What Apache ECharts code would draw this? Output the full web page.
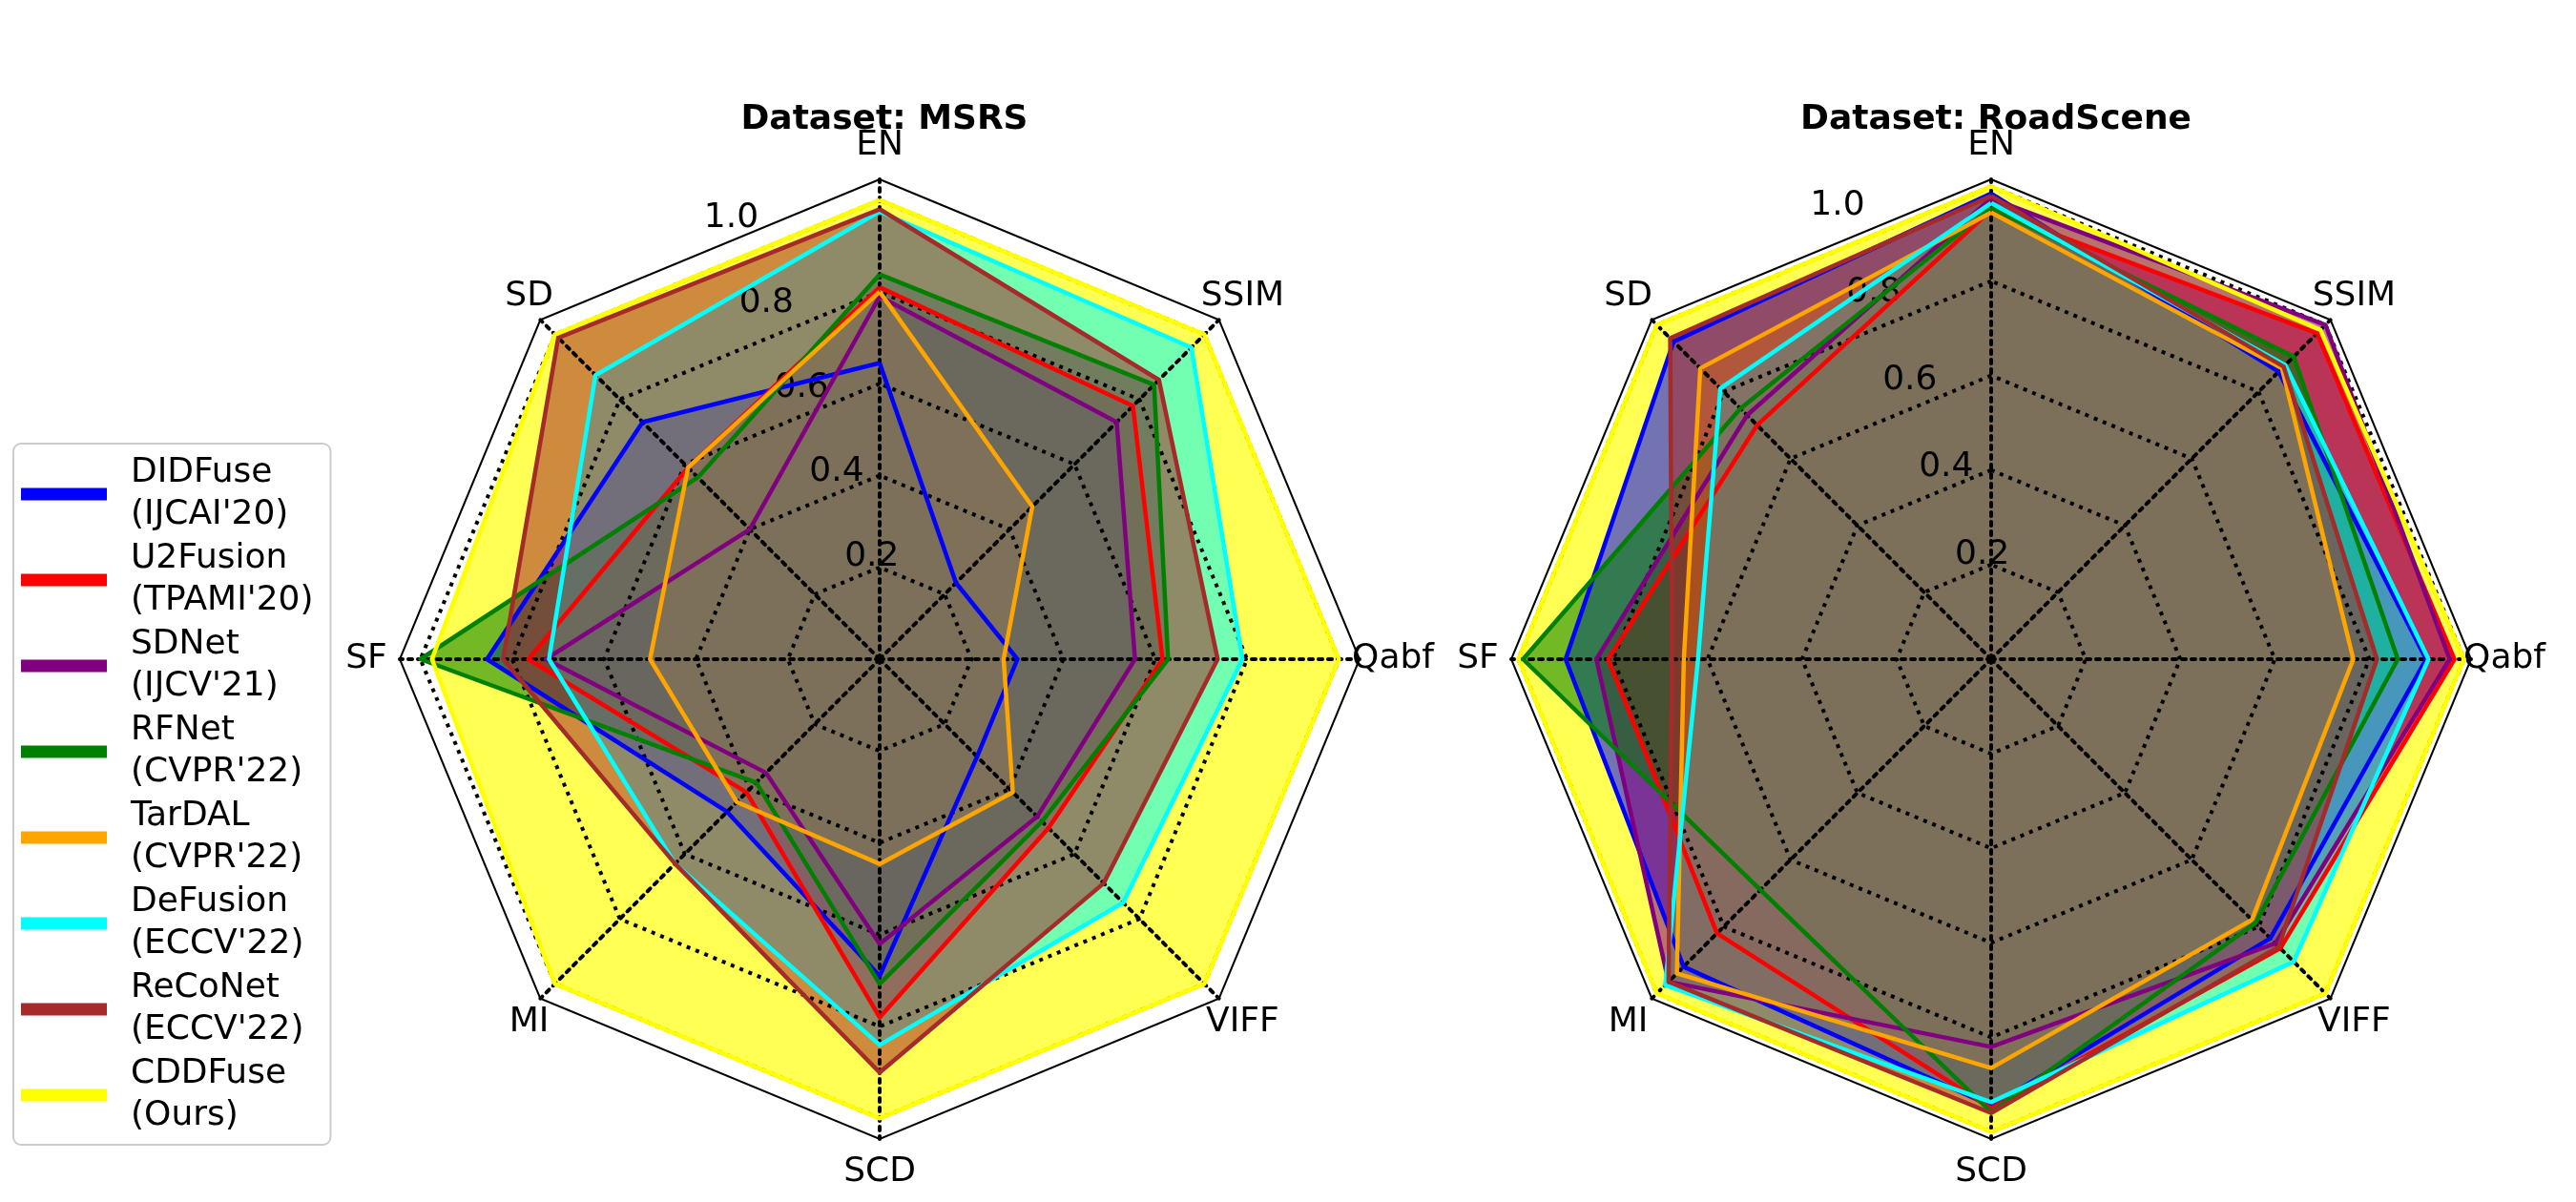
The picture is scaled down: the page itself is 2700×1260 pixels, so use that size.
<!DOCTYPE html>
<html>
<head>
<meta charset="utf-8">
<script src="https://cdn.jsdelivr.net/npm/echarts@6/dist/echarts.min.js"></script>
<style>
html,body{margin:0;padding:0;background:#fff;}
#chart{width:2700px;height:1260px;}
</style>
</head>
<body>
<div id="chart"></div>
<script>
// ---------- data ----------
const METHODS = ["DIDFuse\n(IJCAI'20)", "U2Fusion\n(TPAMI'20)", "SDNet\n(IJCV'21)", "RFNet\n(CVPR'22)",
                 "TarDAL\n(CVPR'22)", "DeFusion\n(ECCV'22)", "ReCoNet\n(ECCV'22)", "CDDFuse\n(Ours)"];
const COLORS = ['#0000ff', '#ff0000', '#800080', '#008000', '#ffa500', '#00ffff', '#a52a2a', '#ffff00'];
// axes, counter-clockwise starting at the top
const AXES = ['EN', 'SD', 'SF', 'MI', 'SCD', 'VIFF', 'Qabf', 'SSIM'];
const RADIAL_TICKS = ['0.2', '0.4', '0.6', '0.8', '1.0'];
const TITLES = ['Dataset: MSRS', 'Dataset: RoadScene'];

// values per method, in AXES order: EN, SD, SF, MI, SCD, VIFF, Qabf, SSIM
const MSRS_DIDFuse  = [0.645, 0.73, 0.855, 0.47, 0.69, 0.30, 0.30, 0.235];
const MSRS_U2Fusion = [0.81, 0.59, 0.765, 0.41, 0.78, 0.52, 0.616, 0.78];
const MSRS_SDNet    = [0.79, 0.40, 0.727, 0.35, 0.62, 0.485, 0.556, 0.73];
const MSRS_RFNet    = [0.838, 0.56, 1.0, 0.38, 0.707, 0.50, 0.628, 0.845];
const MSRS_TarDAL   = [0.80, 0.59, 0.50, 0.44, 0.446, 0.41, 0.27, 0.47];
const MSRS_DeFusion = [0.975, 0.875, 0.72, 0.63, 0.84, 0.75, 0.79, 0.96];
const MSRS_ReCoNet  = [0.98, 0.99, 0.82, 0.63, 0.90, 0.69, 0.736, 0.86];
const MSRS_CDDFuse  = [1.0, 1.0, 0.975, 1.0, 1.0, 1.0, 1.0, 1.0];

const RS_DIDFuse  = [0.985, 0.95, 0.90, 0.92, 0.945, 0.835, 0.92, 0.86];
const RS_U2Fusion = [0.95, 0.70, 0.81, 0.82, 0.95, 0.865, 0.98, 0.975];
const RS_SDNet    = [0.975, 0.73, 0.835, 0.965, 0.82, 0.85, 0.97, 1.0];
const RS_RFNet    = [0.955, 0.75, 0.99, 0.69, 0.958, 0.79, 0.86, 0.905];
const RS_TarDAL   = [0.945, 0.87, 0.65, 0.94, 0.865, 0.78, 0.766, 0.87];
const RS_DeFusion = [0.965, 0.81, 0.62, 0.975, 0.937, 0.905, 0.925, 0.88];
const RS_ReCoNet  = [0.98, 0.96, 0.675, 0.965, 0.96, 0.86, 0.816, 0.875];
const RS_CDDFuse  = [1.0, 1.0, 1.0, 1.0, 1.0, 1.0, 1.0, 0.985];

const MSRS = [MSRS_DIDFuse, MSRS_U2Fusion, MSRS_SDNet, MSRS_RFNet, MSRS_TarDAL, MSRS_DeFusion, MSRS_ReCoNet, MSRS_CDDFuse];
const RS = [RS_DIDFuse, RS_U2Fusion, RS_SDNet, RS_RFNet, RS_TarDAL, RS_DeFusion, RS_ReCoNet, RS_CDDFuse];

// ---------- layout / style ----------
const FONT = 'DejaVu Sans';
const FS = 36;
const R = 503;
const CHARTS = [
  {center: [922, 691], max: 1.045, data: MSRS, title: TITLES[0], nudge: ['SD', 'MI']},
  {center: [2087, 691], max: 1.015, data: RS, title: TITLES[1], nudge: []}
];
const FILL_ORDER = [7, 0, 1, 2, 3, 4, 5, 6];   // yellow at the bottom
const LINE_ORDER = [0, 1, 2, 3, 4, 5, 6, 7];
const FILL_OPACITY = (i) => i === 7 ? 0.67 : 0.55;
const DOT = [4, 6];

const radar = [], series = [], polar = [], angleAxis = [], radiusAxis = [], title = [];
CHARTS.forEach((c, ci) => {
  // frame + spokes + axis names (data radar)
  radar.push({
    center: c.center, radius: R, startAngle: 90, shape: 'polygon', splitNumber: 1, z: 2,
    indicator: AXES.map(n => ({name: n, min: 0, max: c.max})),
    axisName: {
      color: '#000', fontSize: FS, fontFamily: FONT, align: 'center', verticalAlign: 'middle',
      formatter: (name) => c.nudge.includes(name) ? '{s|' + name + '}' : name,
      rich: {s: {fontSize: FS, fontFamily: FONT, color: '#000', padding: [0, 0, 0, 26]}}
    },
    nameGap: 35,
    splitLine: {lineStyle: {color: '#000', width: 2}},
    splitArea: {show: false},
    axisLine: {lineStyle: {color: '#000', width: 4, type: DOT}}
  });
  // dotted rings 0.2 .. 1.0
  radar.push({
    center: c.center, radius: R / c.max, startAngle: 90, shape: 'polygon', splitNumber: 5, z: 2,
    indicator: AXES.map(n => ({name: n, min: 0, max: 1.0})),
    axisName: {show: false},
    splitLine: {lineStyle: {color: '#000', width: 4, type: DOT}},
    splitArea: {show: false},
    axisLine: {show: false}
  });
  const dataRadarIndex = ci * 2;
  series.push({
    type: 'radar', radarIndex: dataRadarIndex, z: 1, symbol: 'none', silent: true,
    data: FILL_ORDER.map(i => ({
      name: METHODS[i], value: c.data[i],
      itemStyle: {color: COLORS[i]},
      lineStyle: {width: 0, opacity: 0},
      areaStyle: {color: COLORS[i], opacity: FILL_OPACITY(i)}
    }))
  });
  series.push({
    type: 'radar', radarIndex: dataRadarIndex, z: 3, symbol: 'none', silent: true,
    data: LINE_ORDER.map(i => ({
      name: METHODS[i], value: c.data[i],
      itemStyle: {color: COLORS[i]},
      lineStyle: {color: COLORS[i], width: 4.5}
    }))
  });
  polar.push({center: c.center, radius: R});
  angleAxis.push({polarIndex: ci, type: 'value', min: 0, max: 360, startAngle: 112.5, show: false});
  radiusAxis.push({
    polarIndex: ci, type: 'value', min: 0, max: c.max, interval: 0.2, z: 2,
    axisLine: {show: false}, axisTick: {show: false}, splitLine: {show: false},
    axisLabel: {
      showMinLabel: false, showMaxLabel: false, margin: 0, align: 'left', verticalAlign: 'bottom',
      fontSize: FS, fontFamily: FONT, color: '#000',
      formatter: v => { const s = (Math.round(v * 10) / 10).toFixed(1); return RADIAL_TICKS.includes(s) && Math.abs(v - parseFloat(s)) < 1e-6 ? s : ''; }
    }
  });
  title.push({
    text: c.title, left: c.center[0], top: 103, textAlign: 'center',
    textStyle: {fontSize: FS, fontWeight: 'bold', fontFamily: FONT, color: '#000'}
  });
});

const chart = echarts.init(document.getElementById('chart'), null, {renderer: 'canvas'});
chart.setOption({
  backgroundColor: '#fff',
  animation: false,
  title: title,
  legend: {
    orient: 'vertical', left: 14, top: 465,
    padding: [9, 18, 8, 8],
    itemWidth: 90, itemHeight: 13, itemGap: 2,
    icon: 'rect',
    borderColor: '#cccccc', borderWidth: 2, borderRadius: 8,
    backgroundColor: '#fff',
    textStyle: {fontSize: FS, lineHeight: 44, fontFamily: FONT, color: '#000', padding: [0, 0, 0, 20]},
    data: METHODS.map((m, i) => ({name: m, itemStyle: {color: COLORS[i]}}))
  },
  radar: radar,
  polar: polar,
  angleAxis: angleAxis,
  radiusAxis: radiusAxis,
  series: series
});
</script>
</body>
</html>
